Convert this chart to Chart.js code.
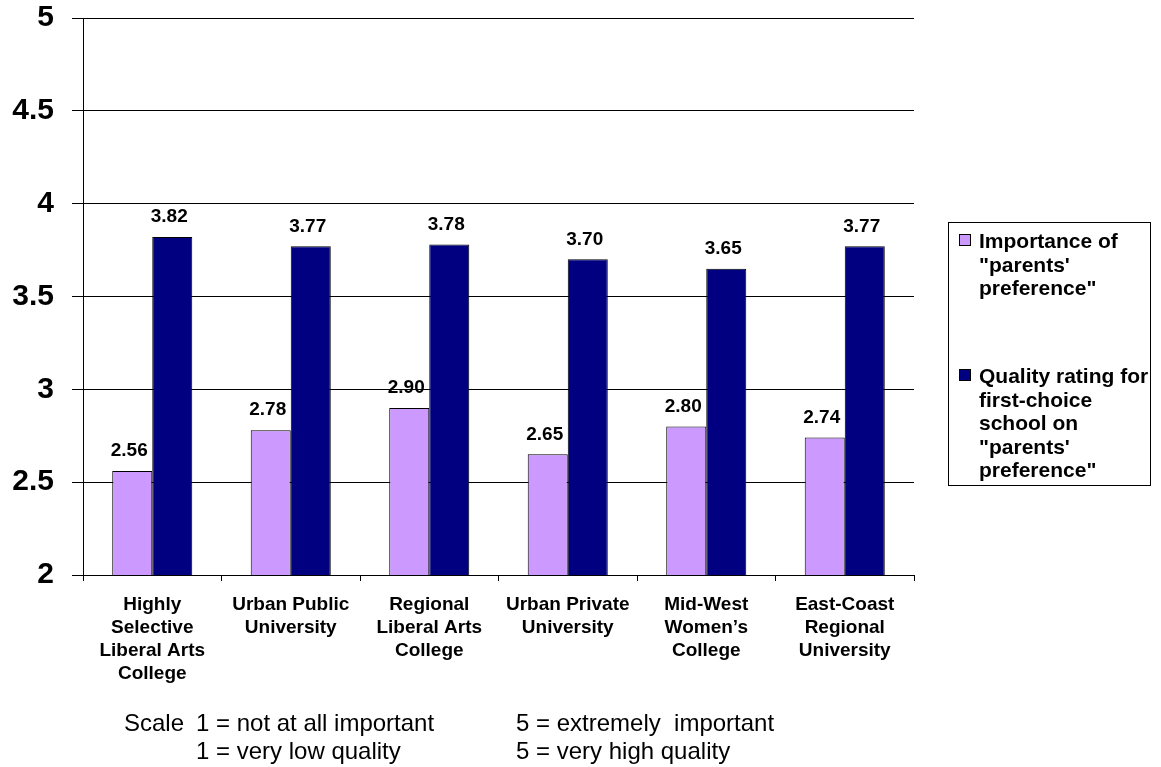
<!DOCTYPE html>
<html>
<head>
<meta charset="utf-8">
<script src="https://cdn.jsdelivr.net/npm/chart.js@4/dist/chart.umd.min.js"></script>
<style>
  html, body { margin: 0; padding: 0; background: #fff; }
  body { width: 1161px; height: 767px; position: relative; overflow: hidden; font-family: 'Liberation Sans', Arial, sans-serif; }
  #c { position: absolute; left: 0; top: 0; }
  .legend { position: absolute; left: 948px; top: 222px; width: 201px; height: 262px; border: 1px solid #000; box-sizing: content-box; }
  .item { position: absolute; left: 30px; font-weight: bold; font-size: 21px; line-height: 23.5px; white-space: nowrap; color: #000; }
  .sw { position: absolute; left: 10px; width: 10px; height: 10px; border: 1px solid #000; }
  .note { position: absolute; font-size: 24px; line-height: 28px; white-space: nowrap; color: #000; }
</style>
</head>
<body>
<canvas id="c" width="1161" height="767"></canvas>
<div class="legend" id="legend"></div>
<div class="note" style="left:124px;top:709px;">Scale</div>
<div class="note" style="left:196px;top:709px;">1 = not at all important</div>
<div class="note" style="left:196px;top:737px;">1 = very low quality</div>
<div class="note" style="left:516px;top:709px;">5 = extremely&nbsp; important</div>
<div class="note" style="left:516px;top:737px;">5 = very high quality</div>
<script>
const categories = [
  ["Highly", "Selective", "Liberal Arts", "College"],
  ["Urban Public", "University"],
  ["Regional", "Liberal Arts", "College"],
  ["Urban Private", "University"],
  ["Mid-West", "Women\u2019s", "College"],
  ["East-Coast", "Regional", "University"]
];
const importanceValues = [2.56, 2.78, 2.90, 2.65, 2.80, 2.74];
const qualityValues = [3.82, 3.77, 3.78, 3.70, 3.65, 3.77];
const seriesNames = [
  ["Importance of", "\"parents'", "preference\""],
  ["Quality rating for", "first-choice", "school on", "\"parents'", "preference\""]
];
const yTickLabels = ["2", "2.5", "3", "3.5", "4", "4.5", "5"];
const seriesColors = ["#CC99FF", "#000080"];

const FONT = "'Liberation Sans', Arial, sans-serif";

// HTML legend
(function () {
  const lg = document.getElementById('legend');
  const tops = [6, 141];
  seriesNames.forEach((lines, i) => {
    const it = document.createElement('div');
    it.className = 'item';
    it.style.top = tops[i] + 'px';
    it.innerHTML = lines.map(l => l.replace(/&/g, '&amp;').replace(/</g, '&lt;')).join('<br>');
    lg.appendChild(it);
    const sw = document.createElement('div');
    sw.className = 'sw';
    sw.style.top = (tops[i] + 5) + 'px';
    sw.style.background = seriesColors[i];
    lg.appendChild(sw);
  });
})();

const valueLabels = {
  id: 'valueLabels',
  afterDatasetsDraw(chart) {
    const ctx = chart.ctx;
    ctx.save();
    ctx.font = 'bold 19px ' + FONT;
    ctx.fillStyle = '#000';
    ctx.textAlign = 'center';
    ctx.textBaseline = 'middle';
    chart.data.datasets.forEach((ds, di) => {
      const meta = chart.getDatasetMeta(di);
      meta.data.forEach((bar, i) => {
        ctx.fillText(ds.data[i].toFixed(2), bar.x - 3, bar.y - 20);
      });
    });
    ctx.restore();
  }
};

new Chart(document.getElementById('c'), {
  type: 'bar',
  data: {
    labels: categories,
    datasets: [
      { label: seriesNames[0].join(' '), data: importanceValues, backgroundColor: seriesColors[0], borderColor: '#000', borderWidth: 1 },
      { label: seriesNames[1].join(' '), data: qualityValues, backgroundColor: seriesColors[1], borderColor: '#000', borderWidth: 1 }
    ]
  },
  options: {
    responsive: false,
    animation: false,
    devicePixelRatio: 1,
    layout: { padding: { top: 0, right: 247, left: 0, bottom: 0 } },
    datasets: { bar: { categoryPercentage: 0.578, barPercentage: 1.0 } },
    plugins: { legend: { display: false }, tooltip: { enabled: false }, title: { display: false } },
    scales: {
      x: {
        grid: { offset: true, drawOnChartArea: false, drawTicks: true, tickLength: 6, color: '#000', lineWidth: 1 },
        border: { display: true, color: '#000', width: 1 },
        ticks: { color: '#000', font: { family: FONT, size: 19, weight: 'bold', lineHeight: 23 / 19 }, padding: 12, maxRotation: 0, minRotation: 0, autoSkip: false },
        afterFit(scale) { scale.height = 192; }
      },
      y: {
        min: 2, max: 5,
        grid: { color: '#000', lineWidth: 1, drawTicks: true, tickLength: 11 },
        border: { display: true, color: '#000', width: 1 },
        ticks: {
          stepSize: 0.5,
          color: '#000',
          font: { family: FONT, size: 30, weight: 'bold' },
          padding: 18,
          callback: (v, i) => yTickLabels[i]
        },
        afterFit(scale) { scale.width = 83; scale.paddingTop = 18; scale.paddingBottom = 0; }
      }
    }
  },
  plugins: [valueLabels]
});
</script>
</body>
</html>
